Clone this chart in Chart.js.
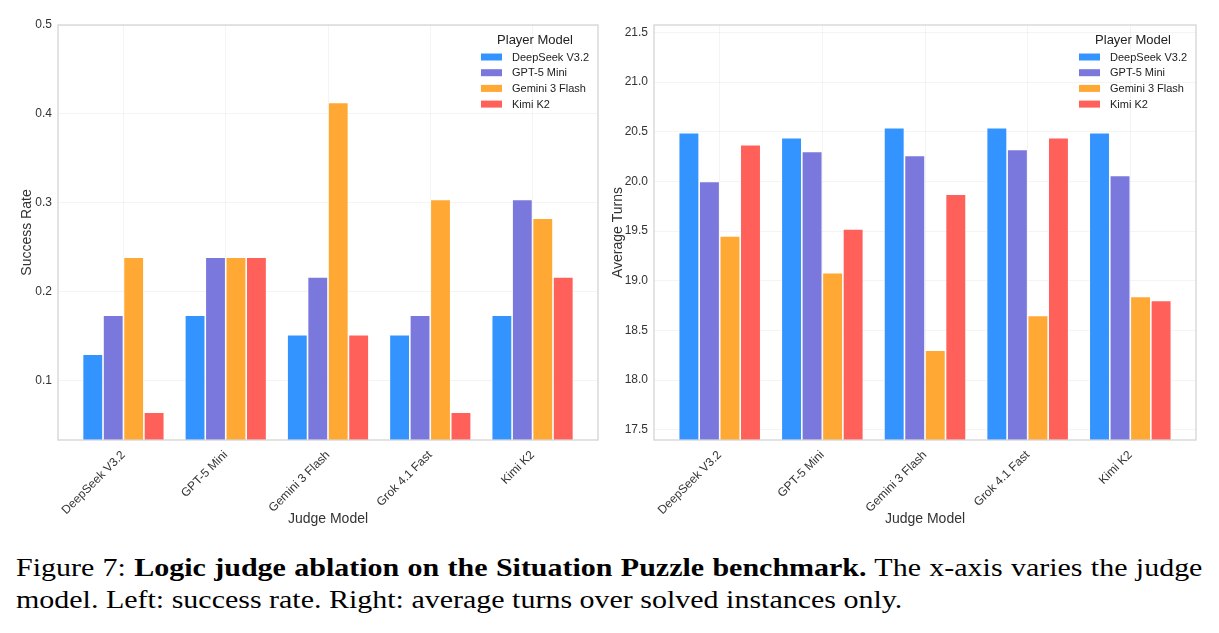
<!DOCTYPE html>
<html>
<head>
<meta charset="utf-8">
<script src="https://cdn.jsdelivr.net/npm/chart.js@4.4.0/dist/chart.umd.min.js"></script>
<style>
body{margin:0;background:#fff;width:1219px;height:633px;overflow:hidden;position:relative}
.box{position:absolute;top:0;height:540px}
#left{left:0;width:610px}
#right{left:610px;width:609px}
#caption{position:absolute;left:16px;top:552px;font-family:"Liberation Serif","Times New Roman",serif;font-size:26px;line-height:32px;color:#000;white-space:nowrap;transform:scaleX(1.153);transform-origin:0 0}
#caption .l1{width:1029px;text-align:justify;text-align-last:justify}
</style>
</head>
<body>
<div class="box" id="left"><canvas id="chartL"></canvas></div>
<div class="box" id="right"><canvas id="chartR"></canvas></div>
<div id="caption"><div class="l1">Figure 7: <b>Logic judge ablation on the Situation Puzzle benchmark.</b> The x-axis varies the judge</div><div>model. Left: success rate. Right: average turns over solved instances only.</div></div>
<script>
// judges on the x axis, one bar per player model
const judges = ["DeepSeek V3.2", "GPT-5 Mini", "Gemini 3 Flash", "Grok 4.1 Fast", "Kimi K2"];
const players = ["DeepSeek V3.2", "GPT-5 Mini", "Gemini 3 Flash", "Kimi K2"];
const playerColors = ["#3393FF", "#7A78DD", "#FFA833", "#FF605A"];

// success rate (left), per player across judges
const rateDeepSeek = [0.130, 0.174, 0.152, 0.152, 0.174];
const rateGpt5Mini = [0.174, 0.239, 0.217, 0.174, 0.304];
const rateGemini = [0.239, 0.239, 0.413, 0.304, 0.283];
const rateKimi = [0.065, 0.239, 0.152, 0.065, 0.217];

// average turns (right)
const turnsDeepSeek = [20.49, 20.44, 20.54, 20.54, 20.49];
const turnsGpt5Mini = [20.00, 20.30, 20.26, 20.32, 20.06];
const turnsGemini = [19.45, 19.08, 18.30, 18.65, 18.84];
const turnsKimi = [20.37, 19.52, 19.87, 20.44, 18.80];

const rateTicks = [0.1, 0.2, 0.3, 0.4, 0.5];
const turnTicks = [17.5, 18.0, 18.5, 19.0, 19.5, 20.0, 20.5, 21.0, 21.5];

const FONT = "'Liberation Sans', Arial, sans-serif";
const TXT = "#333";

//frame round the plot + legend inside top right
const framePlugin = {
  id: "frame",
  afterDraw(chart) {
    const ctx = chart.ctx, a = chart.chartArea;
    ctx.save();
    ctx.strokeStyle = "#d4d4d4";
    ctx.lineWidth = 1.3;
    ctx.strokeRect(a.left, a.top, a.right - a.left, a.bottom - a.top);

    ctx.fillStyle = "#222";
    ctx.font = "13px " + FONT;
    ctx.textAlign = "center";
    ctx.textBaseline = "middle";
    ctx.fillText("Player Model", a.right - 63, a.top + 15);
    ctx.font = "11px " + FONT;
    ctx.textAlign = "left";
    chart.data.datasets.forEach((ds, i) => {
      const y = a.top + 32 + i * 15.7;
      ctx.fillStyle = ds.backgroundColor;
      ctx.fillRect(a.right - 117, y - 3.5, 21, 7);
      ctx.fillStyle = "#222";
      ctx.fillText(ds.label, a.right - 86, y + 0.5);
    });
    ctx.restore();
  }
};

function makeChart(id, series, yTitle, yMin, yMax, yTicks, yWidth, pad, titlePad) {
  const datasets = players.map((p, k) => ({
    label: p,
    data: series[k].map((v, i) => ({ x: i, y: v })),
    backgroundColor: playerColors[k],
    borderColor: "#ffffff",
    borderWidth: 0.8,
    categoryPercentage: 0.8,
    barPercentage: 1.0
  }));

  return new Chart(id, {
    type: "bar",
    data: { datasets: datasets },
    plugins: [framePlugin],
    options: {
      responsive: true,
      maintainAspectRatio: false,
      animation: false,
      layout: { padding: pad },
      plugins: { legend: { display: false }, tooltip: { enabled: false } },
      scales: {
        x: {
          type: "linear",
          offset: false,
          min: -0.64,
          max: 4.64,
          afterBuildTicks: s => { s.ticks = judges.map((j, i) => ({ value: i })); },
          afterFit: s => { s.height = 100; },
          grid: { color: "rgba(0,0,0,0.045)", drawTicks: false, offset: false },
          border: { display: false },
          ticks: {
            autoSkip: false,
            maxRotation: 45,
            minRotation: 45,
            padding: 8,
            color: TXT,
            font: { family: FONT, size: 12 },
            callback: v => judges[Math.round(v)]
          },
          title: {
            display: true,
            text: "Judge Model",
            color: TXT,
            font: { family: FONT, size: 14 },
            padding: { top: 0, bottom: 12 }
          }
        },
        y: {
          min: yMin,
          max: yMax,
          afterBuildTicks: s => { s.ticks = yTicks.map(v => ({ value: v })); },
          afterFit: s => { s.width = yWidth; },
          grid: { color: "rgba(0,0,0,0.045)", drawTicks: false },
          border: { display: false },
          ticks: {
            padding: 6,
            color: TXT,
            font: { family: FONT, size: 12 },
            callback: v => v.toFixed(1)
          },
          title: {
            display: true,
            text: yTitle,
            color: TXT,
            font: { family: FONT, size: 14 },
            padding: { top: titlePad, bottom: 0 }
          }
        }
      }
    }
  });
}

const chartL = makeChart("chartL", [rateDeepSeek, rateGpt5Mini, rateGemini, rateKimi],
  "Success Rate", 0.0337, 0.5, rateTicks, 58, { top: 25, right: 12, bottom: 0, left: 0 }, 19);

const chartR = makeChart("chartR", [turnsDeepSeek, turnsGpt5Mini, turnsGemini, turnsKimi],
  "Average Turns", 17.396, 21.574, turnTicks, 44, { top: 25, right: 23, bottom: 0, left: 0 }, 0);
</script>
</body>
</html>
